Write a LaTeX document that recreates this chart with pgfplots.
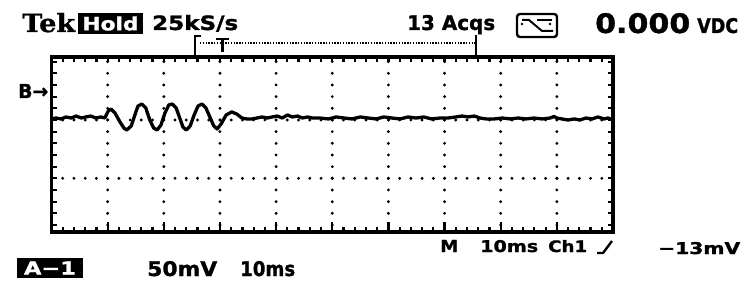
\documentclass[border=0pt]{standalone}
\usepackage{pgfplots}
\pgfplotsset{compat=1.18}
\usepackage{graphicx}
\usepackage{fontspec}
\setmainfont{DejaVu Sans}[BoldFeatures={FakeBold=1.2}]
\newfontfamily\serifb{DejaVu Serif}[BoldFeatures={FakeBold=1.2}]
\newcommand{\fit}[3]{\resizebox{#1}{#2}{\bfseries #3}}
\begin{document}
\begin{tikzpicture}[x=1pt,y=1pt]
\path[use as bounding box, fill=white] (0,0) rectangle (751,281);
\begin{axis}[
  at={(51.5pt,49pt)}, anchor=south west,
  scale only axis, width=561.5pt, height=175pt,
  xmin=0, xmax=100, ymin=-96, ymax=54,
  xtick={10,20,...,90}, ytick={-50,0},
  minor xtick={2,4,...,98}, minor ytick={-90,-80,...,50},
  xticklabels={}, yticklabels={},
  tick align=inside, xtick pos=both, ytick pos=both,
  major tick length=5.5pt, minor tick length=5.5pt,
  tick style={black, line width=2.2pt},
  axis line style={line width=3.6pt},
  xmajorgrids, ymajorgrids,
  major x grid style={draw=black, line width=3.2pt, line cap=round, dash pattern=on 0pt off 11.67pt, dash phase=4.67pt},
  major y grid style={draw=black, line width=3.2pt, line cap=round, dash pattern=on 0pt off 11.23pt},
]
\addplot[black, line width=3.3pt, line join=round] coordinates {
(0.0,0.9) (0.8,1.7) (1.7,0.9) (2.6,2.6) (3.5,1.7) (4.4,3.4) (5.3,1.7) (6.1,2.6) (7.0,3.4) (7.9,1.7) (8.8,2.6) (9.5,1.7)
(10.1,7.7) (10.6,9.4) (11.3,6.0) (12.2,-1.7) (12.9,-6.9) (13.4,-8.6) (14.2,-5.1) (14.9,5.1) (15.4,12.0) (16.1,13.7) (16.8,10.3)
(17.5,0) (18.2,-6.9) (18.8,-8.6) (19.5,-4.3) (20.2,6.0) (20.9,12.9) (21.5,13.7) (22.2,10.3) (22.9,0.9) (23.4,-6.0) (24.0,-8.6)
(24.7,-5.1) (25.4,4.3) (26.1,12.0) (26.8,13.7) (27.5,10.3) (28.2,2.6) (28.9,-5.1) (29.5,-7.7) (30.2,-3.4) (31.1,4.3) (32.1,6.9)
(33.0,5.1) (33.9,1.7) (34.8,0.9) (35.7,0.9) (36.6,1.7) (37.5,2.6) (38.4,1.7) (39.3,2.6) (40.2,3.4) (41.1,1.7) (42.0,4.3)
(42.9,2.6) (43.8,3.4) (44.7,1.7) (45.6,2.6) (46.5,1.7) (47.8,1.7) (49.3,0.9) (50.7,2.6) (52.1,1.7) (53.5,0.9) (55.0,2.6)
(56.4,1.7) (57.8,0.9) (59.2,2.6) (60.6,1.7) (62.1,0.9) (63.5,2.6) (64.9,1.7) (66.3,2.6) (67.7,0.9) (69.2,1.7) (70.6,1.7)
(72.0,2.6) (73.1,3.4) (74.2,2.6) (75.3,3.4) (76.3,1.7) (77.4,0.9) (78.8,0.9) (80.3,1.7) (81.7,0.9) (83.1,1.7) (84.5,0.9)
(85.9,1.7) (87.4,0.9) (88.8,1.7) (89.5,3.0) (90.0,1.7) (90.9,0.9) (92.0,0) (93.1,0.9) (94.1,0) (95.2,1.7) (96.3,0.9)
(97.3,2.6) (98.4,0.9) (99.1,1.7) (100,0)
};
\end{axis}
% longer bottom ticks at divisions
\foreach \i in {1,...,9} \draw[line width=2.2pt] ({51.5+56.15*\i},49) -- ++(0,10);
% record window bracket
\draw[line width=2.8pt] (195,224) -- (195,245) -- (201,245);
\draw[line width=2pt, dash pattern=on 1.4pt off 1.4pt] (200,238) -- (475,238);
\draw[line width=2.8pt] (216,242) -- (229,242) (222.5,242) -- (222.5,229);
\draw[line width=2.8pt] (476,224) -- (476,246);
% icon
\draw[line width=2.4pt, rounded corners=3pt] (517,244) rectangle (557,267);
\draw[line width=2pt] (522,261) -- (529,261) -- (542,250) -- (553,250);
\draw[line width=2pt] (537,261) -- (552,261);
\fill (522,257) circle (1.3) (550,257) circle (1.3);
% slope icon
\draw[line width=2.4pt] (597,28) -- (603,28) -- (612,40);
% texts
\node[anchor=base west, inner sep=0] at (22,249) {\fit{53pt}{19pt}{\serifb Tek}};
\node[fill=black, text=white, minimum width=65pt, minimum height=21pt, inner sep=0] at (110.5,257.5) {\fit{56pt}{14pt}{Hold}};
\node[anchor=base west, inner sep=0] at (152,251) {\fit{86pt}{15pt}{25kS/s}};
\node[anchor=base west, inner sep=0] at (407,251) {\fit{88pt}{15pt}{13 Acqs}};
\node[anchor=base west, inner sep=0] at (595,248) {\fit{95pt}{20pt}{0.000}};
\node[anchor=base west, inner sep=0] at (697,248) {\fit{41pt}{15pt}{VDC}};
\node[anchor=base west, inner sep=0] at (18,183) {\fit{30pt}{14pt}{B→}};
\node[anchor=base west, inner sep=0] at (440,29) {\fit{18pt}{12pt}{M}};
\node[anchor=base west, inner sep=0] at (480,29) {\fit{58pt}{12pt}{10ms}};
\node[anchor=base west, inner sep=0] at (548,29) {\fit{39pt}{12pt}{Ch1}};
\node[anchor=base west, inner sep=0] at (658,27) {\fit{82pt}{12pt}{−13mV}};
\node[fill=black, text=white, minimum width=66pt, minimum height=20pt, inner sep=0] at (50,13) {\fit{52pt}{13pt}{A−1}};
\node[anchor=base west, inner sep=0] at (147,5) {\fit{70pt}{15pt}{50mV}};
\node[anchor=base west, inner sep=0] at (240,5) {\fit{55pt}{15pt}{10ms}};
\end{tikzpicture}
\end{document}
